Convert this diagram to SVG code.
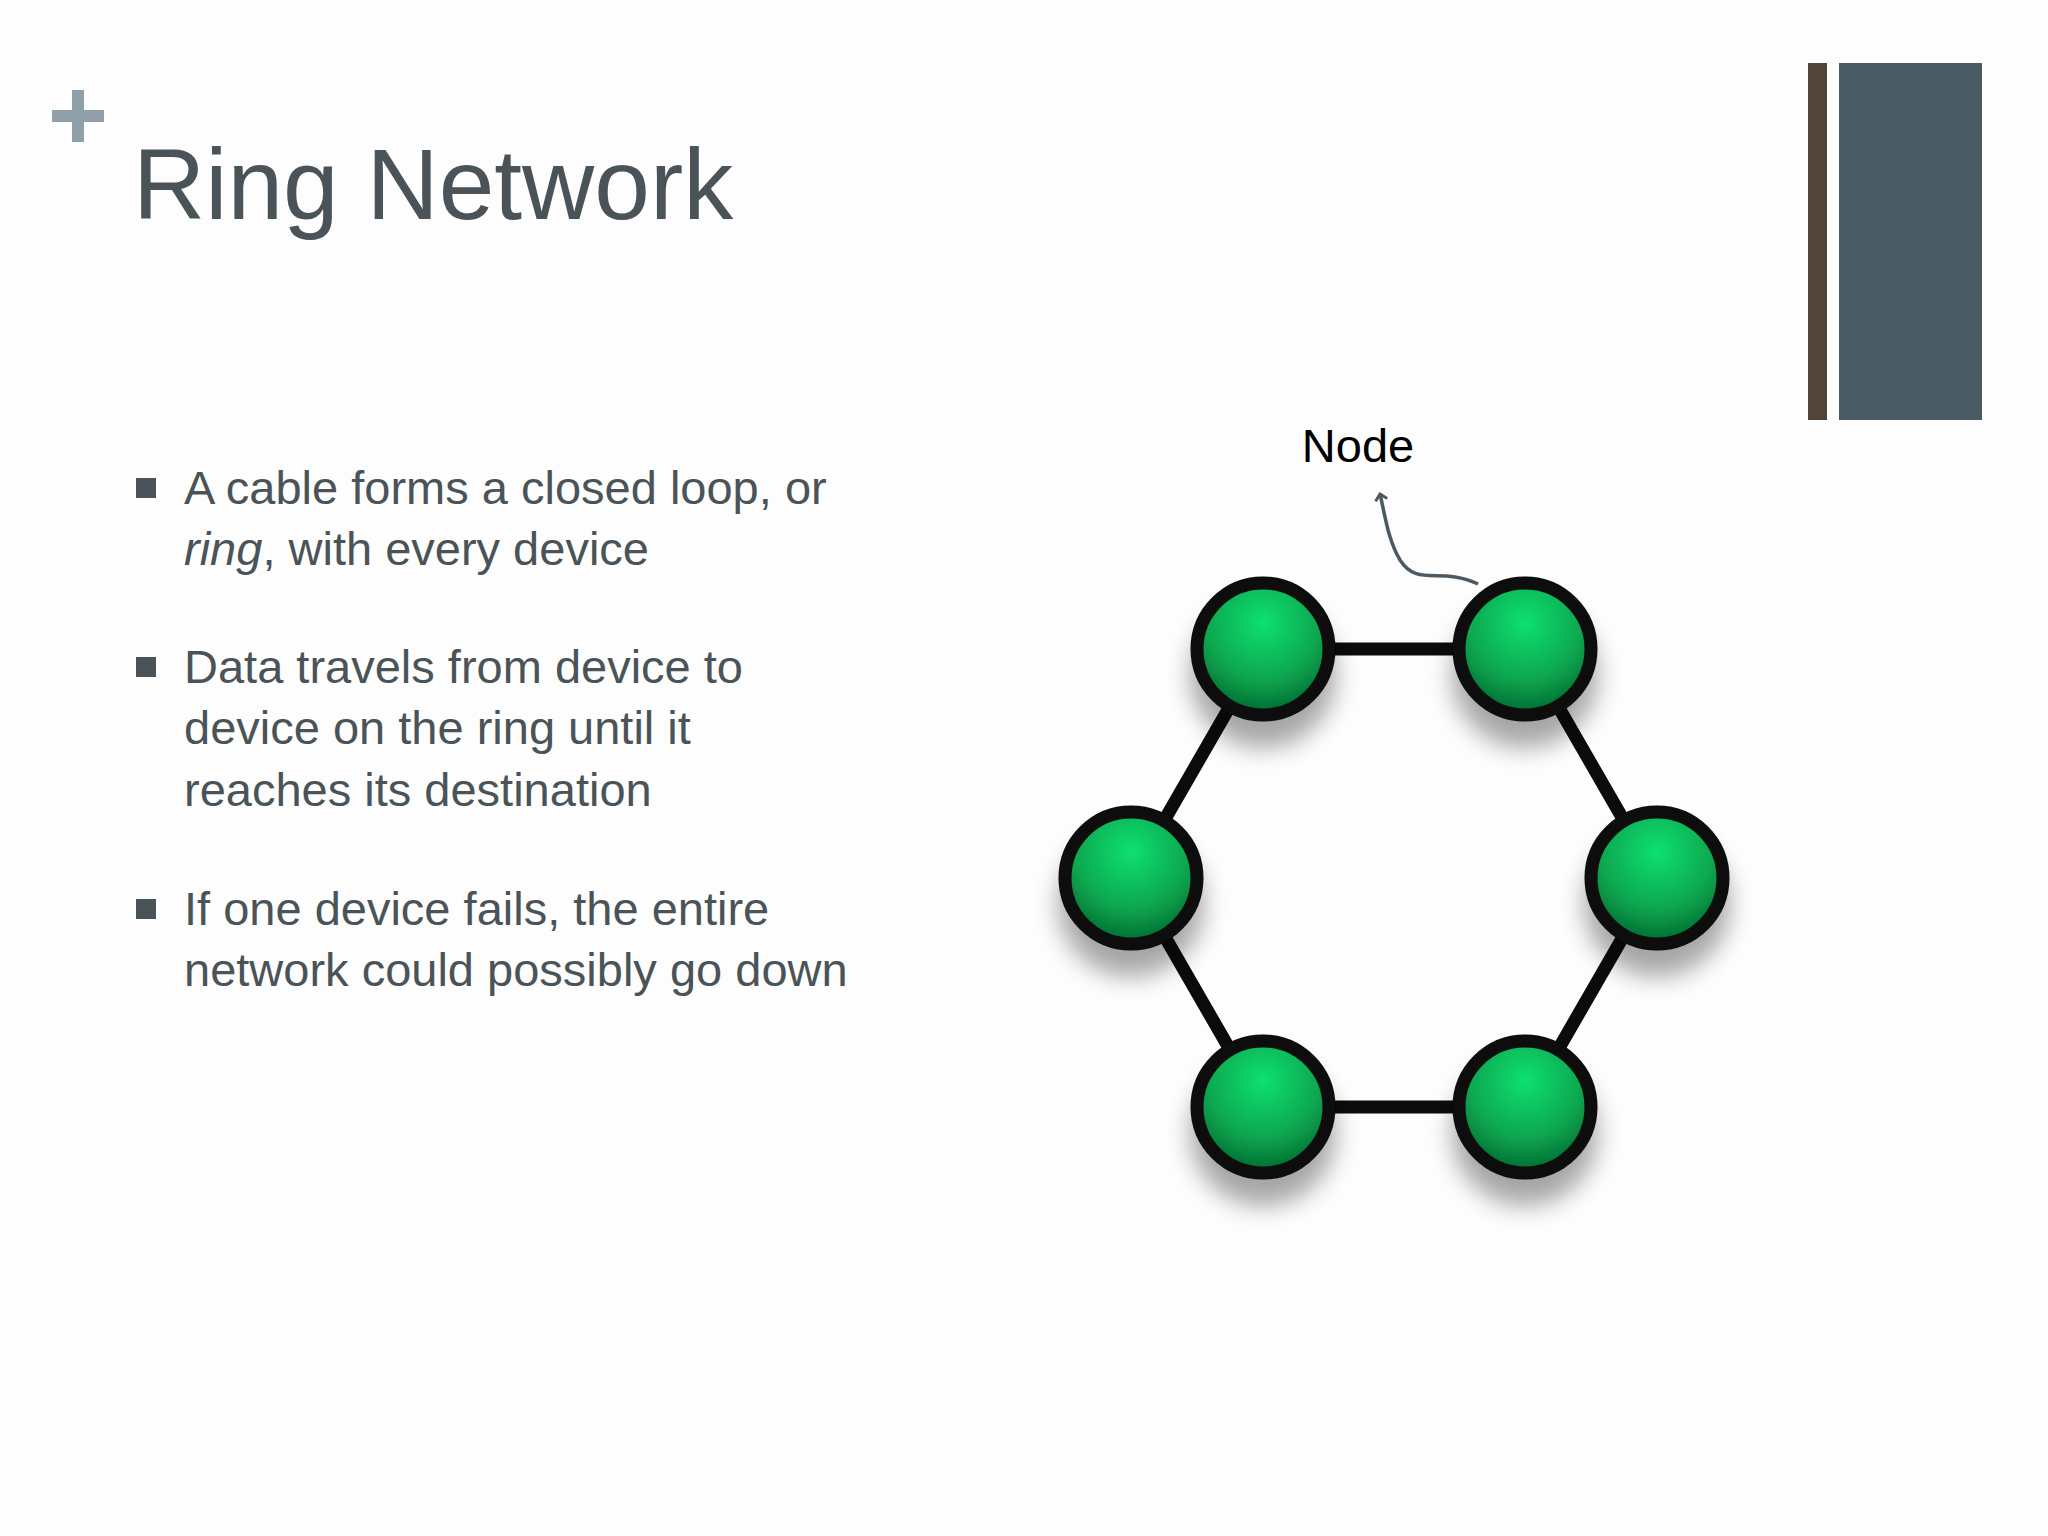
<svg xmlns="http://www.w3.org/2000/svg" width="2048" height="1536" viewBox="0 0 2048 1536">
<defs>
<radialGradient id="g" cx="0.5" cy="0.3" r="0.7">
<stop offset="0" stop-color="#0fe070"/>
<stop offset="0.6" stop-color="#08a850"/>
<stop offset="1" stop-color="#056a30"/>
</radialGradient>
<filter id="sh" x="-50%" y="-50%" width="200%" height="200%">
<feGaussianBlur in="SourceAlpha" stdDeviation="12"/>
<feOffset dy="26"/>
<feComponentTransfer><feFuncA type="linear" slope="0.35"/></feComponentTransfer>
<feMerge><feMergeNode/><feMergeNode in="SourceGraphic"/></feMerge>
</filter>
<marker id="arr" markerWidth="14" markerHeight="14" refX="7" refY="7" orient="auto" markerUnits="userSpaceOnUse">
<path d="M1,1 L7,7 L1,13" fill="none" stroke="#4a5a60" stroke-width="3"/>
</marker>
<style>
.t{font-family:"Liberation Sans",Arial,sans-serif;fill:#4a5458}
.b{font-size:47px}
.n{fill:url(#g);stroke:#0b0b0b;stroke-width:13}
</style>
</defs>
<rect width="2048" height="1536" fill="#fdfdfd"/>
<path d="M78,90 v52 M52,116 h52" stroke="#8fa0a8" stroke-width="12"/>
<text class="t" x="133" y="219" font-size="100" fill="#4a5a60">Ring Network</text>
<rect x="1808" y="63" width="19" height="357" fill="#514438"/>
<rect x="1839" y="63" width="143" height="357" fill="#4a5a62"/>
<g fill="#4a5458">
<rect x="136" y="478" width="20" height="20"/>
<rect x="136" y="657" width="20" height="20"/>
<rect x="136" y="899" width="20" height="20"/>
</g>
<text class="t b" x="184" y="504">A cable forms a closed loop, or</text>
<text class="t b" x="184" y="565"><tspan font-style="italic">ring</tspan>, with every device</text>
<text class="t b" x="184" y="683">Data travels from device to</text>
<text class="t b" x="184" y="744">device on the ring until it</text>
<text class="t b" x="184" y="806">reaches its destination</text>
<text class="t b" x="184" y="925">If one device fails, the entire</text>
<text class="t b" x="184" y="986">network could possibly go down</text>
<g id="connectors" stroke="#0b0b0b" stroke-width="13" fill="none">
<path d="M1263,649 L1525,649 L1657,878 L1525,1107 L1263,1107 L1131,878 Z"/>
<path d="M1478,584 C1440,566 1418,588 1400,560 C1388,540 1385,515 1380,494" stroke="#4a5a60" stroke-width="3.5" marker-end="url(#arr)"/>
</g>
<g filter="url(#sh)">
<g id="n1"><circle class="n" cx="1263" cy="649" r="66"/></g>
<g id="n2"><circle class="n" cx="1525" cy="649" r="66"/></g>
<g id="n3"><circle class="n" cx="1131" cy="878" r="66"/></g>
<g id="n4"><circle class="n" cx="1657" cy="878" r="66"/></g>
<g id="n5"><circle class="n" cx="1263" cy="1107" r="66"/></g>
<g id="n6"><circle class="n" cx="1525" cy="1107" r="66"/></g>
</g>
<text x="1358" y="462" font-family="Liberation Sans,Arial,sans-serif" font-size="47" text-anchor="middle" fill="#000">Node</text>
</svg>
